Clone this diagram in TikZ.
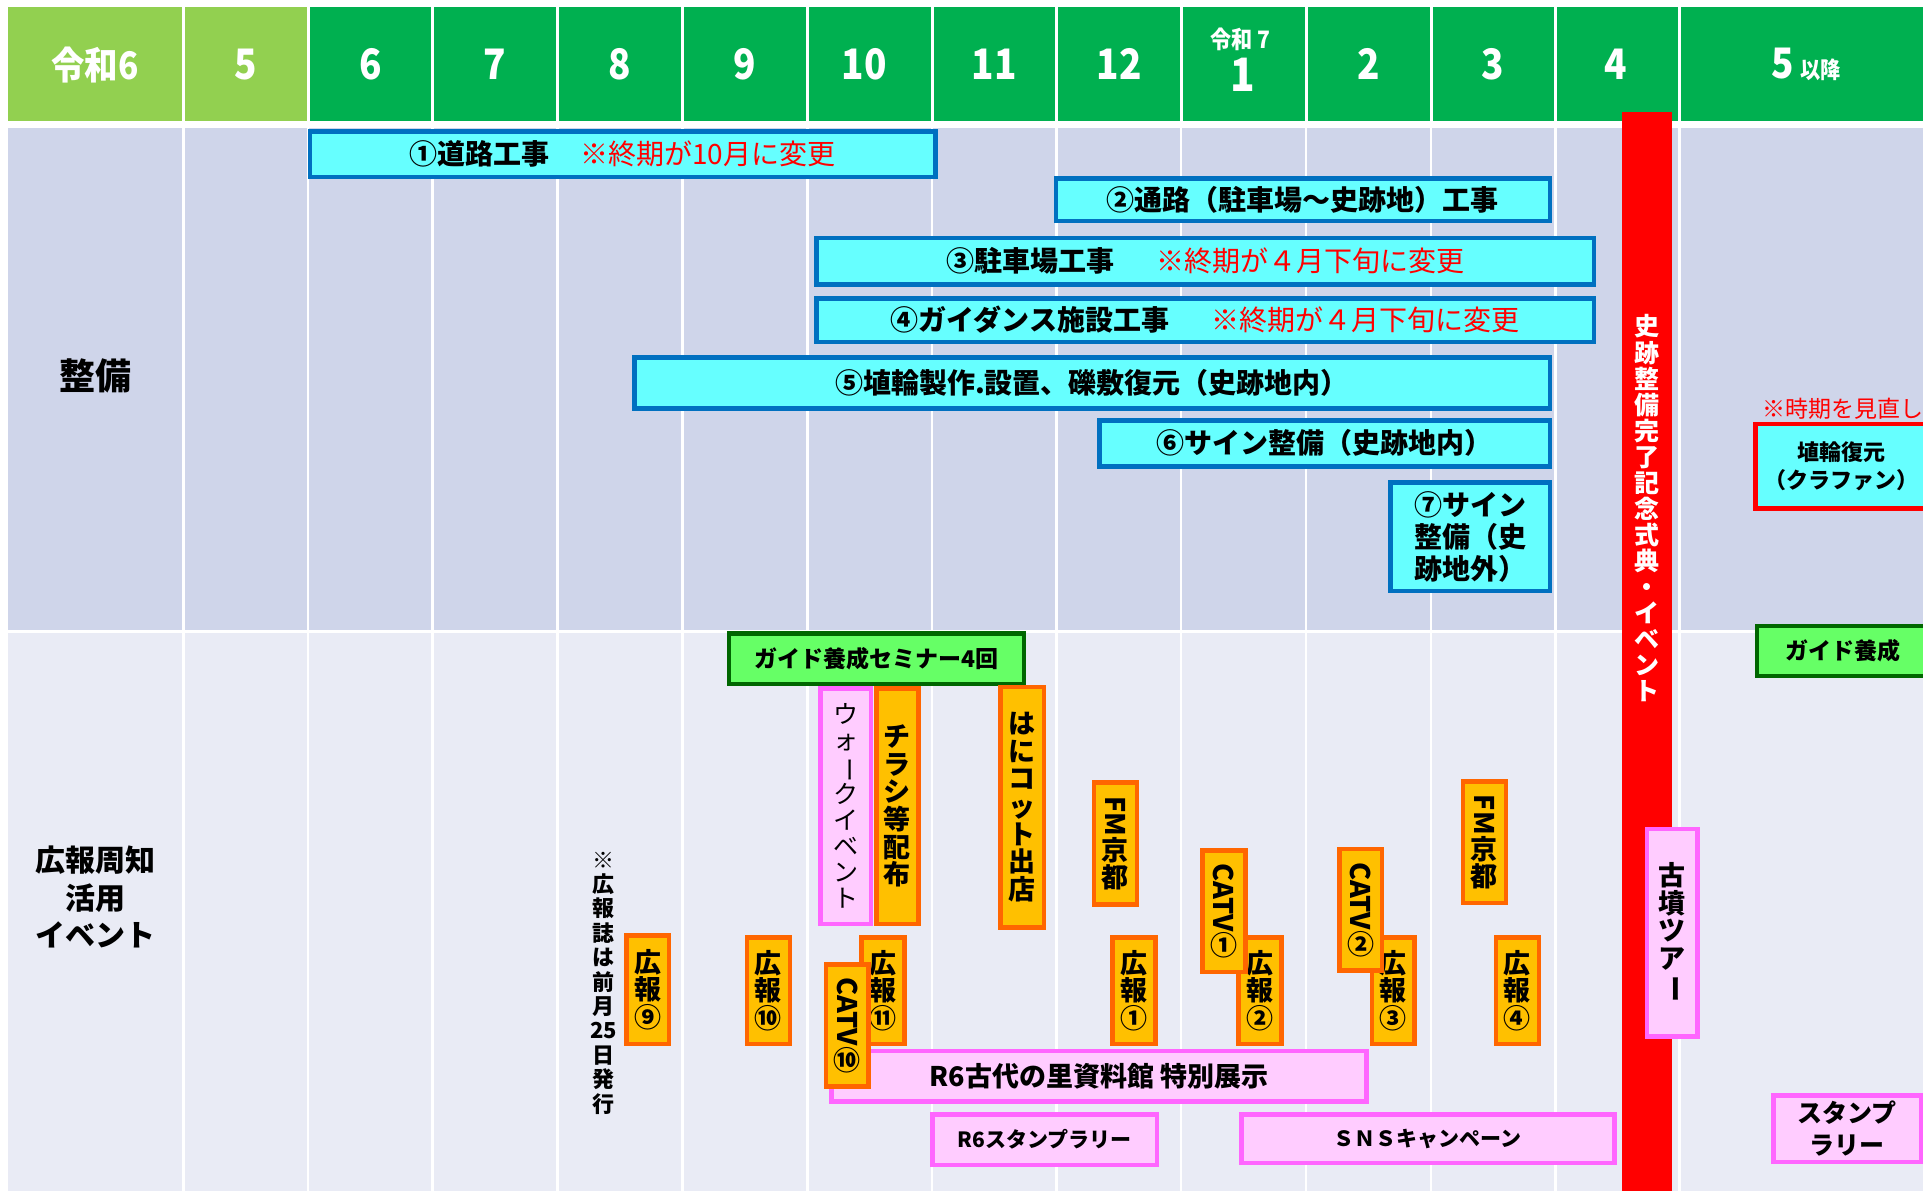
\documentclass[tikz,border=0pt]{standalone}
\usepackage{fontspec}
\setmainfont{Noto Sans CJK JP}
\usepackage{graphicx}
\definecolor{hdrLight}{HTML}{92D050}
\definecolor{hdrGreen}{HTML}{00B050}
\definecolor{secA}{HTML}{CFD5EA}
\definecolor{secB}{HTML}{E9EBF5}
\definecolor{cyanF}{HTML}{66FFFF}
\definecolor{cyanB}{HTML}{0070C0}
\definecolor{orgF}{HTML}{FFC000}
\definecolor{orgB}{HTML}{FF6600}
\definecolor{pinkF}{HTML}{FFCCFF}
\definecolor{pinkB}{HTML}{FF66FF}
\definecolor{grnF}{HTML}{66FF66}
\definecolor{grnB}{HTML}{006600}
\definecolor{redA}{HTML}{FF0000}
\newcommand\fsz[2]{\fontsize{#1}{#2}\selectfont}
\newcommand\vrot[1]{\rotatebox[origin=c]{-90}{#1}}
\newcommand\nar[1]{\scalebox{0.88}[1]{#1}}
\newcommand\bx[7]{\node[#2, minimum width={(#5)-(#3)-4.5}, minimum height={(#6)-(#4)-4.5}] (#1) at ({((#3)+(#5))/2},{((#4)+(#6))/2}) {#7};}
\tikzset{
  boxbase/.style={line width=4.5pt, inner sep=0pt, align=center, text=black},
  cyanbar/.style={boxbase, draw=cyanB, fill=cyanF, font=\bfseries\fsz{28}{32}},
  redbox/.style={boxbase, draw=redA, fill=cyanF, font=\bfseries\fsz{22}{28}},
  obox/.style={boxbase, draw=orgB, fill=orgF, font=\bfseries\fsz{27}{27.5}},
  pbox/.style={boxbase, draw=pinkB, fill=pinkF, font=\bfseries\fsz{27}{27.6}},
  gbox/.style={boxbase, draw=grnB, fill=grnF, font=\bfseries\fsz{23}{26}},
  hdr/.style={text=white, inner sep=0pt, anchor=base},
  redtxt/.style={text=redA},
  sep/.style={draw=white, line width=2.5pt},
}
\begin{document}
\begin{tikzpicture}[x=1pt,y=-1pt]
\useasboundingbox (0,0) rectangle (1923,1191);
\clip (0,0) rectangle (1923,1191);
% header cells
\fill[hdrLight] (8,7) rectangle (182,120.7);
\fill[hdrLight] (185,7) rectangle (306.5,120.7);
\foreach \a/\b in {309.5/431,434/556,559/681,684/806,809/930.5,933.5/1055,1058/1179.5,1182.5/1304.5,1307.5/1429.5,1432.5/1554,1557/1678,1681/1923}
  \fill[hdrGreen] (\a,7) rectangle (\b,120.7);
% body sections
\fill[secA] (8,128) rectangle (1923,630);
\fill[secB] (8,633) rectangle (1923,1191);
\foreach \x in {183.5,308,432.5,557.5,682.5,807.5,932,1056.5,1181,1306,1431,1555.5,1679.5}
  \draw[sep] (\x,128) -- (\x,1191);
% header texts
\node[hdr, font=\bfseries\fsz{38}{40}] (h0) at (95,79) {\nar{令和6}};
\node[hdr, font=\bfseries\fsz{42}{44}] (h5) at (245.5,79) {\nar{5}};
\node[hdr, font=\bfseries\fsz{42}{44}] (h6) at (370.5,79) {\nar{6}};
\node[hdr, font=\bfseries\fsz{42}{44}] (h7) at (495,79) {\nar{7}};
\node[hdr, font=\bfseries\fsz{42}{44}] (h8) at (620,79) {\nar{8}};
\node[hdr, font=\bfseries\fsz{42}{44}] (h9) at (745,79) {\nar{9}};
\node[hdr, font=\bfseries\fsz{42}{44}] (h10) at (864,79) {\nar{10}};
\node[hdr, font=\bfseries\fsz{42}{44}] (h11) at (994,79) {\nar{11}};
\node[hdr, font=\bfseries\fsz{42}{44}] (h12) at (1119,79) {\nar{12}};
\node[hdr, font=\bfseries\fsz{24}{26}] (hr7) at (1240,48) {\nar{令和 7}};
\node[hdr, font=\bfseries\fsz{46}{48}] (h1) at (1243,91.5) {\nar{1}};
\node[hdr, font=\bfseries\fsz{42}{44}] (h2) at (1369,79) {\nar{2}};
\node[hdr, font=\bfseries\fsz{42}{44}] (h3) at (1493,79) {\nar{3}};
\node[hdr, font=\bfseries\fsz{42}{44}] (h4) at (1616,79) {\nar{4}};
\node[hdr, font=\bfseries\fsz{42}{44}] (h5b) at (1806,78) {\nar{5}\,{\fsz{23}{25}\nar{以降}}};
% section labels
\node[font=\bfseries\fsz{36}{40}] (lbA) at (95,376) {整備};
\node[font=\bfseries\fsz{30}{37.5}, align=center] (lbB) at (95,897) {広報周知\\活用\\イベント};
% maintenance bars
\bx{b1}{cyanbar}{307.6}{129.3}{937.5}{179}{①道路工事\hspace{1.1em}{\mdseries\color{redA}※終期が10月に変更}}
\bx{b2}{cyanbar}{1053.6}{176}{1552}{223}{②通路（駐車場～史跡地）工事}
\bx{b3}{cyanbar}{814}{235.7}{1596}{286.5}{③駐車場工事\hspace{1.5em}{\mdseries\color{redA}※終期が４月下旬に変更}}
\bx{b4}{cyanbar}{814}{296}{1596}{344}{④ガイダンス施設工事\hspace{1.5em}{\mdseries\color{redA}※終期が４月下旬に変更}}
\bx{b5}{cyanbar}{632}{355}{1552}{410.7}{⑤埴輪製作.設置、礫敷復元（史跡地内）}
\bx{b6}{cyanbar}{1097}{418}{1552}{468.7}{⑥サイン整備（史跡地内）}
\bx{b7}{cyanbar, align=left}{1388}{480}{1552}{593}{⑦サイン\\整備（史\\跡地外）}
% ceremony bar
\fill[redA] (1622,112) rectangle (1672,1191);
\node[text=white, font=\bfseries\fsz{25}{26.07}, align=center, inner sep=0pt] (cer) at (1647,508.5) {史\\跡\\整\\備\\完\\了\\記\\念\\式\\典\\・\\イ\\ベ\\ン\\ト};
% haniwa restoration
\node[redtxt, anchor=west, inner sep=0pt, font=\fsz{23}{25}] (nt2) at (1762,409) {※時期を見直し};
\bx{hb}{redbox}{1753}{421.7}{1929}{510.7}{埴輪復元\\（クラファン）}
% PR section
\node[font=\bfseries\fsz{22}{24.4}, align=center, inner sep=0pt] (nt1) at (603.6,983) {※\\広\\報\\誌\\は\\前\\月\\25\\日\\発\\行};
\bx{g1}{gbox}{726.8}{631}{1026}{686}{ガイド養成セミナー4回}
\bx{g2}{gbox}{1754.6}{623.6}{1932}{678}{ガイド養成}
\bx{wk}{pbox, font=\fsz{25}{26}}{818}{686}{873}{926}{ウ\\ォ\\\vrot{ー}\\ク\\イ\\ベ\\ン\\ト}
\bx{cr}{obox, font=\bfseries\fsz{27}{27.6}}{874}{686}{920.5}{926}{チ\\ラ\\シ\\等\\配\\布}
\bx{hn}{obox, font=\bfseries\fsz{27}{27.6}}{998}{684.5}{1046}{929.5}{は\\に\\コ\\ッ\\ト\\出\\店}
\bx{fm1}{obox}{1091.5}{780}{1139}{906.6}{\vrot{FM}\\京\\都}
\bx{fm2}{obox}{1460.7}{779}{1508}{905}{\vrot{FM}\\京\\都}
\bx{k9}{obox}{624}{933}{671}{1046}{広\\報\\⑨}
\bx{k10}{obox}{744.6}{935}{792}{1046}{広\\報\\⑩}
\bx{k11}{obox}{859}{935}{906.7}{1046}{広\\報\\⑪}
\bx{ex}{pbox}{829}{1048.6}{1368.75}{1103.6}{R6古代の里資料館 特別展示}
\bx{cv10}{obox}{823.7}{962}{870.5}{1088.7}{\vrot{CATV}\\⑩}
\bx{k1}{obox}{1110}{935}{1157.6}{1046}{広\\報\\①}
\bx{k2}{obox}{1236}{935}{1283.5}{1046}{広\\報\\②}
\bx{cv1}{obox}{1200}{848}{1247.8}{974}{\vrot{CATV}\\①}
\bx{k3}{obox}{1369.6}{935}{1416.7}{1046}{広\\報\\③}
\bx{cv2}{obox}{1337}{846.5}{1384}{972.5}{\vrot{CATV}\\②}
\bx{k4}{obox}{1493.7}{935}{1541}{1046}{広\\報\\④}
\bx{st}{pbox, font=\bfseries\fsz{21}{24}}{930}{1112}{1159}{1167}{R6スタンプラリー}
\bx{sns}{pbox, font=\bfseries\fsz{21}{24}}{1239}{1112}{1616.8}{1165}{ＳＮＳキャンペーン}
\bx{kf}{pbox}{1644.5}{826.5}{1699.5}{1038.8}{古\\墳\\ツ\\ア\\\vrot{ー}}
\bx{st2}{pbox, font=\bfseries\fsz{25}{32}}{1771}{1093}{1923}{1164.4}{スタンプ\\ラリー}
\end{tikzpicture}
\end{document}
